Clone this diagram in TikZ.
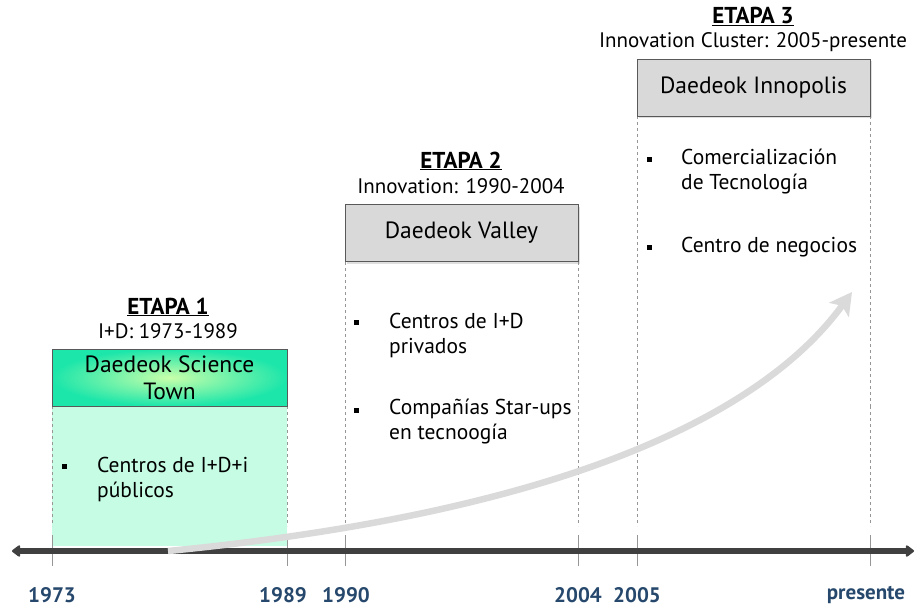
\documentclass[tikz,border=0pt]{standalone}
\usepackage{fontspec}
\setmainfont{PT Sans}
\usetikzlibrary{arrows.meta,shadows}

\definecolor{axisGray}{RGB}{64,64,64}
\definecolor{trendGray}{RGB}{218,218,218}
\definecolor{tickGray}{RGB}{150,150,150}
\definecolor{yearBlue}{RGB}{38,72,108}
\definecolor{townGreen}{RGB}{28,230,170}
\definecolor{townGlow}{RGB}{200,255,170}
\definecolor{townBody}{RGB}{198,252,228}
\definecolor{headGray}{RGB}{217,217,217}

\tikzset{
  stagehead/.style={draw=gray!70!black, minimum width=233pt, minimum height=57pt,
    align=center, font=\fontsize{23.5}{27}\selectfont, inner sep=0pt},
  stagetitle/.style={font=\fontsize{23}{26}\selectfont\bfseries},
  stagesub/.style={font=\fontsize{21}{24}\selectfont},
  itemtext/.style={anchor=west, align=left, font=\fontsize{21.5}{25}\selectfont, inner sep=0pt},
  bulletbox/.style={fill=black, minimum size=5pt, inner sep=0pt},
  sideline/.style={dashed, tickGray, line width=0.8pt},
  yearlabel/.style={font=\fontsize{21}{24}\selectfont\bfseries, text=yearBlue, inner sep=0pt}
}

\begin{document}
\begin{tikzpicture}[x=1pt,y=-1pt]
\useasboundingbox (0,0) rectangle (918,607);

% stage bodies and side lines
\fill[townBody] (52,406) rectangle (287,546);
\foreach \x in {52,287,345,578,637,870} {
  \draw[sideline] (\x,406) -- (\x,526);
}
\draw[sideline] (345,262) -- (345,406);
\draw[sideline] (578,262) -- (578,406);
\draw[sideline] (637,116) -- (637,406);
\draw[sideline] (870,116) -- (870,406);

% headers
\node[stagehead, minimum width=235pt, shading=radial, inner color=townGlow,
  outer color=townGreen] (townHead) at (169.5,377.5) {Daedeok Science\\Town};
\node[stagehead, fill=headGray, drop shadow={shadow xshift=2pt, shadow yshift=-2pt,
  opacity=0.25}] (valleyHead) at (461.5,233) {Daedeok Valley};
\node[stagehead, fill=headGray, drop shadow={shadow xshift=2pt, shadow yshift=-2pt,
  opacity=0.25}] (innoHead) at (753.5,87.5) {Daedeok Innopolis};

% titles
\node[stagetitle] (etapa1) at (168,307) {\underline{ETAPA 1}};
\node[stagesub] (sub1) at (168,331) {I+D: 1973-1989};
\node[stagetitle] (etapa2) at (461,161) {\underline{ETAPA 2}};
\node[stagesub] (sub2) at (461,186) {Innovation: 1990-2004};
\node[stagetitle] (etapa3) at (753,16) {\underline{ETAPA 3}};
\node[stagesub] (sub3) at (753,42) {Innovation Cluster: 2005-presente};

% bullet items
\node[bulletbox] (b11) at (64,466) {};
\node[itemtext] (t11) at (97,479) {Centros de I+D+i\\públicos};
\node[bulletbox] (b21) at (356,322) {};
\node[itemtext] (t21) at (389,335) {Centros de I+D\\privados};
\node[bulletbox] (b22) at (356,410) {};
\node[itemtext] (t22) at (389,422) {Compañías Star-ups\\en tecnoogía};
\node[bulletbox] (b31) at (649,159) {};
\node[itemtext] (t31) at (681,172) {Comercialización\\de Tecnología};
\node[bulletbox] (b32) at (649,247) {};
\node[itemtext] (t32) at (681,247) {Centro de negocios};

% timeline
\coordinate (axisL) at (12,551);
\coordinate (axisR) at (914,551);
\foreach \x in {52,287,345,578,637,870} {
  \draw[tickGray, line width=1pt] (\x,535) -- (\x,566);
}
\draw[axisGray, line width=6pt, {Triangle[round,length=9pt,width=13pt]}-{Triangle[round,length=9pt,width=13pt]}]
  (axisL) -- (axisR);
\foreach \lx/\yr in {52/1973,283/1989,346/1990,578/2004,637/2005,866/presente} {
  \node[yearlabel] (year\yr) at (\lx,595) {\yr};
}

% growth trend
\coordinate (trendStart) at (168,551);
\coordinate (trendEnd) at (852,292);
\draw[trendGray, line width=6.5pt, -{Stealth[length=22pt,width=24pt,inset=5pt]}]
  (trendStart) .. controls (568,512) and (764,413) .. (trendEnd);
\end{tikzpicture}
\end{document}
